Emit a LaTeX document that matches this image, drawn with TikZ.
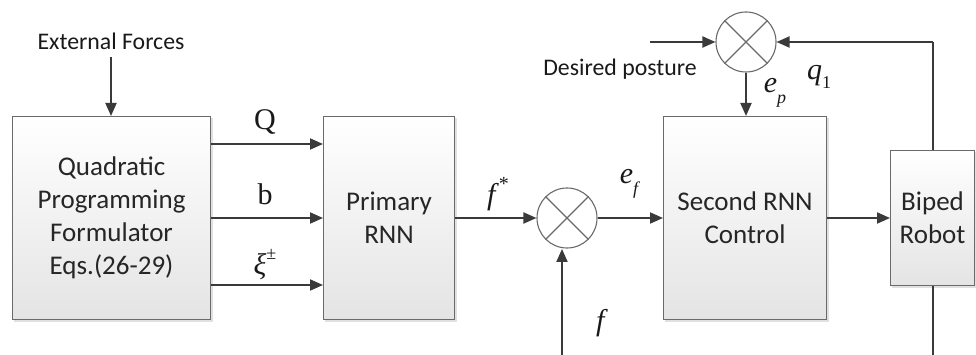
\documentclass[tikz,border=0pt]{standalone}
\usepackage{fontspec}
\setmainfont{Liberation Serif}
\newfontfamily\boxfont{Carlito}
\usetikzlibrary{arrows.meta,calc}
\definecolor{lineC}{HTML}{3A3A3A}
\definecolor{borderC}{HTML}{6A6A6A}
\definecolor{shadeC}{HTML}{E4E4E4}
\newcommand{\itsub}[2]{\textit{#1}\raisebox{-0.35em}{\fontsize{18}{20}\selectfont\textit{#2}}}
\tikzset{
  blockbox/.style={draw=borderC, line width=1.1pt, top color=white, bottom color=shadeC,
    minimum width=#1, inner sep=0pt, align=center, anchor=north west,
    font=\boxfont\fontsize{27}{33}\selectfont, text=black!85},
  arr/.style={draw=lineC, line width=1.9pt, -{Triangle[length=13pt,width=11pt]}},
  plainline/.style={draw=lineC, line width=1.9pt},
  sumnode/.style={circle, draw=borderC, line width=1.1pt, fill=white, minimum size=60pt, inner sep=0pt},
  lbl/.style={font=\boxfont\fontsize{23.8}{28}\selectfont, text=black!90},
  mlbl/.style={font=\fontsize{30}{34}\selectfont, text=black!90},
}
\begin{document}
\begin{tikzpicture}[x=1pt,y=-1pt]
\useasboundingbox (0,0) rectangle (976,355);
% shadows
\fill[black!12] (14,118) rectangle (213,322);
\fill[black!12] (325,118) rectangle (457,322);
\fill[black!12] (665,118) rectangle (829,322);
\fill[black!12] (892,152) rectangle (977,288);
% boxes
\node[blockbox=198pt, minimum height=203pt] (qp) at (12,116) {Quadratic\\Programming\\Formulator\\Eqs.(26-29)};
\node[blockbox=131pt, minimum height=203pt] (prn) at (323,116) {Primary\\RNN};
\node[blockbox=163pt, minimum height=203pt] (src) at (663,116) {Second RNN\\Control};
\node[blockbox=84pt, minimum height=135pt] (bip) at (890,150) {Biped\\Robot};
% summing junctions
\node[sumnode] (s1) at (567,218) {};
\draw[borderC, line width=1.1pt] (s1.45) -- (s1.225) (s1.135) -- (s1.315);
\node[sumnode] (s2) at (746,42) {};
\draw[borderC, line width=1.1pt] (s2.45) -- (s2.225) (s2.135) -- (s2.315);
% external forces
\node[lbl] (ext) at (111,41) {External Forces};
\draw[arr] (ext.south |- 0,57) -- (ext.south |- qp.north);
% QP -> primary
\draw[arr] (qp.east |- 0,144) -- (prn.west |- 0,144);
\draw[arr] (qp.east |- 0,218) -- (prn.west |- 0,218);
\draw[arr] (qp.east |- 0,285) -- (prn.west |- 0,285);
\node[mlbl] (lQ) at (265,122) {Q};
\node[mlbl] (lb) at (265,194) {b};
\node[mlbl] (lxi) at (265,265) {\textit{ξ}\raisebox{0.5em}{\fontsize{18}{20}\selectfont ±}};
% primary -> sum1
\draw[arr] (prn.east |- s1.west) -- (s1.west);
\node[mlbl] (lfs) at (498,194) {\textit{f}\raisebox{0.45em}{\fontsize{20}{20}\selectfont *}};
% sum1 -> second
\draw[arr] (s1.east) -- (src.west |- s1.east);
\node[mlbl] (lef) at (630,184) {\itsub{e}{f}};
% feedback f
\coordinate (fbot) at (562,355);
\draw[arr] (fbot) -- ($(fbot |- s1.south)+(0,0.4)$);
\node[mlbl] (lf) at (602,323) {\textit{f}};
% second -> biped
\draw[arr] (src.east |- 0,218) -- (bip.west |- 0,218);
% desired posture
\coordinate (dstart) at (650,42);
\draw[arr] (dstart) -- (s2.west);
\node[lbl] (des) at (620,69) {Desired posture};
% sum2 -> second
\draw[arr] (s2.south) -- (src.north -| s2.south);
\node[mlbl] (lep) at (775,93) {\itsub{e}{p}};
% feedback q1
\coordinate (qtop) at (933,42);
\draw[plainline] (bip.north -| qtop) -- (qtop);
\draw[arr] (qtop) -- (s2.east);
\node[mlbl] (lq) at (819,77) {\textit{q}\raisebox{-0.3em}{\fontsize{18}{20}\selectfont 1}};
% biped bottom
\coordinate (bbot) at (933,355);
\draw[plainline] (bip.south -| bbot) -- (bbot);
\end{tikzpicture}
\end{document}
